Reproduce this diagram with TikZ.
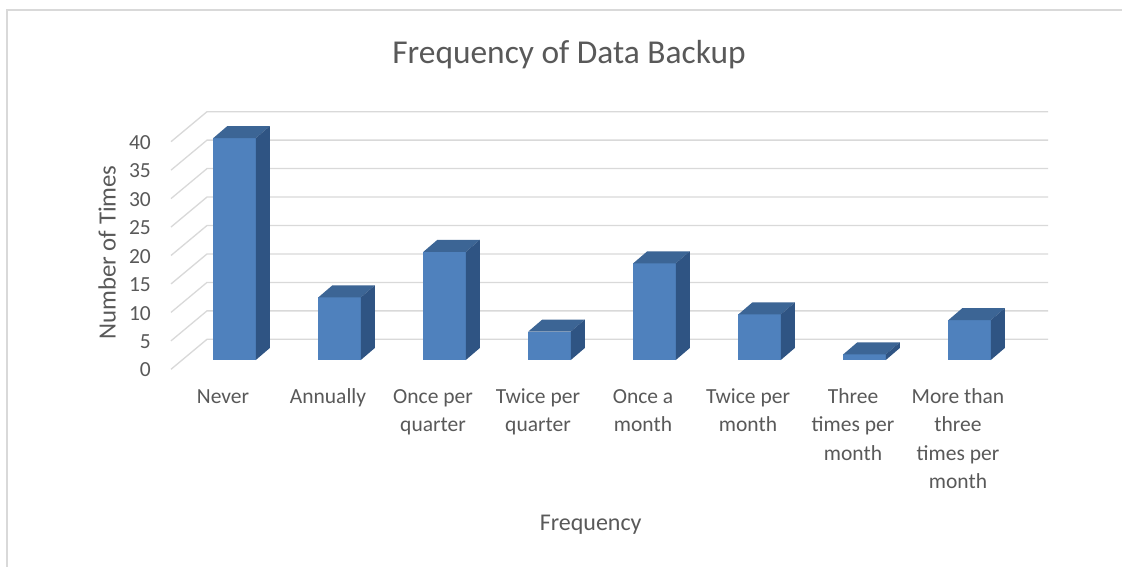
\documentclass[tikz,border=0pt]{standalone}
\usepackage{fontspec}
\setmainfont{Carlito}
\definecolor{txt}{HTML}{595959}
\definecolor{gridc}{HTML}{D9D9D9}
\definecolor{barfront}{HTML}{4F81BD}
\definecolor{bartop}{HTML}{3C6595}
\definecolor{barside}{HTML}{2F5483}
\begin{document}
\begin{tikzpicture}[x=1pt,y=-1pt,
  gridline/.style={gridc,line width=1.3pt},
  ticklab/.style={text=txt,font=\fontsize{21.5}{26}\selectfont,anchor=base east,inner sep=0pt},
  catlab/.style={text=txt,font=\fontsize{21.5}{28.4}\selectfont,align=center,anchor=base,inner sep=0pt},
  axtitle/.style={text=txt,font=\fontsize{24}{28}\selectfont,anchor=base,inner sep=0pt}]
\useasboundingbox (0,0) rectangle (1122,567);
\fill[white] (0,0) rectangle (1122,567);
% chart area frame
\draw[gridc,line width=1.2pt] (7,570) -- (7,10) -- (1125,10);
% side wall and back wall gridlines with value labels
\foreach \k in {0,...,8} {
  \pgfmathsetmacro\yb{339.3-28.45*\k}
  \pgfmathtruncatemacro\lab{5*\k}
  \draw[gridline] (171,\yb+30) -- (207,\yb) -- (1048,\yb);
  \node[ticklab] (tick\k) at (151,\yb+37.6) {\lab};
}
% 3-D columns
\foreach \v [count=\i from 0] in {39,11,19,5,17,8,1,7} {
  \pgfmathsetmacro\barL{213.3+105*\i}
  \pgfmathsetmacro\barT{360-5.69*\v}
  \fill[barfront] (\barL,\barT) rectangle (\barL+42.5,360);
  \fill[bartop] (\barL,\barT) -- (\barL+14,\barT-12) -- (\barL+56.5,\barT-12) -- (\barL+42.5,\barT) -- cycle;
  \fill[barside] (\barL+42.5,\barT) -- (\barL+56.5,\barT-12) -- (\barL+56.5,348) -- (\barL+42.5,360) -- cycle;
}
% category labels: first baseline at y = 403.3, anchored on the last line
\foreach \t/\n [count=\i from 0] in {Never/0,Annually/0,{Once per\\quarter}/1,{Twice per\\quarter}/1,{Once a\\month}/1,{Twice per\\month}/1,{Three\\times per\\month}/2,{More than\\three\\times per\\month}/3} {
  \node[catlab] (cat\i) at (223+105*\i,403.3+28.4*\n) {\t};
}
% titles
\node[text=txt,font=\fontsize{33.4}{40}\selectfont,anchor=base,inner sep=0pt] (title) at (569,63.3) {Frequency of Data Backup};
\node[axtitle] (xtitle) at (590.7,530) {Frequency};
\node[axtitle,font=\fontsize{24.8}{28}\selectfont,rotate=90] (ytitle) at (115.5,252.5) {Number of Times};
\end{tikzpicture}
\end{document}
